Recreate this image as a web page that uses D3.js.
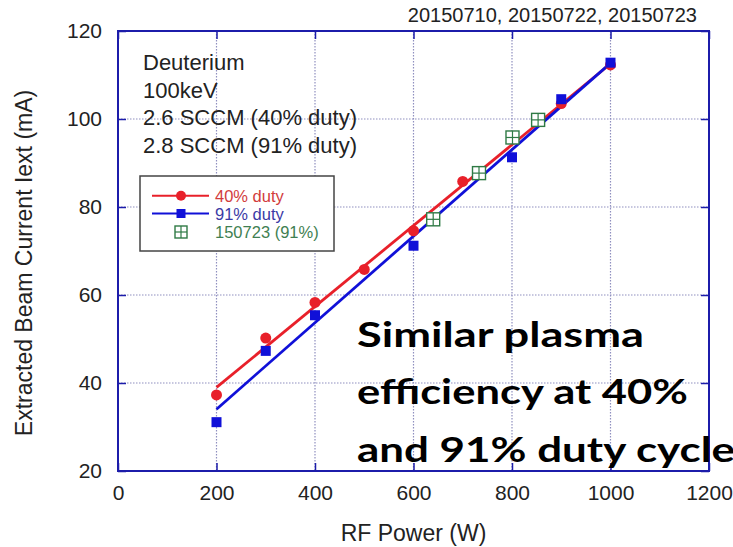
<!DOCTYPE html>
<html>
<head>
<meta charset="utf-8">
<script src="https://cdn.jsdelivr.net/npm/d3@7"></script>
<style>
  body { margin: 0; background: #fff; }
  svg { display: block; }
</style>
</head>
<body>
<div id="chart"></div>
<script>
// 40% duty, 2.6 SCCM
const power40 = [200, 300, 400, 500, 600, 700, 900, 1000];
const current40 = [37.3, 50.2, 58.3, 65.8, 74.6, 85.8, 103.5, 112.3];
// 91% duty, 2.8 SCCM
const power91 = [200, 300, 400, 600, 800, 900, 1000];
const current91 = [31.1, 47.3, 55.4, 71.2, 91.3, 104.5, 112.8];
// run of 150723 (91%)
const power0723 = [640, 733, 801, 853];
const current0723 = [77.2, 87.7, 95.8, 99.8];

const xTicks = [0, 200, 400, 600, 800, 1000, 1200];
const yTicks = [20, 40, 60, 80, 100, 120];

const infoLines = ["Deuterium", "100keV", "2.6 SCCM (40% duty)", "2.8 SCCM (91% duty)"];
const noteLines = ["Similar plasma", "efficiency at 40%", "and 91% duty cycle"];
const legendLabels = ["40% duty", "91% duty", "150723 (91%)"];
const dateLabel = "20150710, 20150722, 20150723";

// least squares line over the range of the points
function fitLine(xs, ys) {
    const mx = d3.mean(xs), my = d3.mean(ys);
    const sxy = d3.sum(xs, (v, i) => (v - mx) * (ys[i] - my));
    const sxx = d3.sum(xs, v => (v - mx) * (v - mx));
    const b = sxy / sxx, a = my - b * mx;
    const ext = d3.extent(xs);
    return ext.map(v => [v, a + b * v]);
}

function drawChart() {
    const W = 733, H = 547;
    const left = 118, right = 709, top = 31, bottom = 471;
    const axisBlue = "#1c1caa";
    const gridColor = "#8f8fbf";

    const svg = d3.select("#chart")
        .append("svg")
        .attr("width", W)
        .attr("height", H)
        .style("font-family", "'Liberation Sans', Arial, sans-serif");

    const x = d3.scaleLinear().domain([0, 1200]).range([left, right]);
    const y = d3.scaleLinear().domain([20, 120]).range([bottom, top]);

    // dotted grid
    svg.append("g").selectAll("line")
        .data(xTicks.slice(1, -1))
        .enter().append("line")
        .attr("x1", d => x(d)).attr("x2", d => x(d))
        .attr("y1", top).attr("y2", bottom)
        .attr("stroke", gridColor).attr("stroke-width", 1.2)
        .attr("stroke-dasharray", "1.5,1.5");
    svg.append("g").selectAll("line")
        .data(yTicks.slice(1, -1))
        .enter().append("line")
        .attr("y1", d => y(d)).attr("y2", d => y(d))
        .attr("x1", left).attr("x2", right)
        .attr("stroke", gridColor).attr("stroke-width", 1.2)
        .attr("stroke-dasharray", "1.5,1.5");

    // axes with inward ticks
    svg.append("g")
        .attr("transform", `translate(0,${bottom})`)
        .call(d3.axisBottom(x).tickValues(xTicks).tickFormat(d3.format("d"))
            .tickSize(-8).tickPadding(14));
    svg.append("g")
        .attr("transform", `translate(${left},0)`)
        .call(d3.axisLeft(y).tickValues(yTicks).tickFormat(d3.format("d"))
            .tickSize(-8).tickPadding(16));
    svg.append("g")
        .attr("transform", `translate(0,${top})`)
        .call(d3.axisTop(x).tickValues(xTicks).tickSize(-8).tickFormat(""));
    svg.append("g")
        .attr("transform", `translate(${right},0)`)
        .call(d3.axisRight(y).tickValues(yTicks).tickSize(-8).tickFormat(""));

    svg.selectAll(".domain").remove();
    svg.selectAll(".tick line").attr("stroke", axisBlue).attr("stroke-width", 1.5);
    svg.selectAll(".tick text")
        .attr("fill", "#222")
        .style("font-size", "21px")
        .style("font-family", "'Liberation Sans', Arial, sans-serif");

    svg.append("rect")
        .attr("x", left).attr("y", top)
        .attr("width", right - left).attr("height", bottom - top)
        .attr("fill", "none").attr("stroke", axisBlue).attr("stroke-width", 2);

    // axis titles
    svg.append("text")
        .attr("x", (left + right) / 2).attr("y", 541)
        .attr("text-anchor", "middle")
        .style("font-size", "23px").attr("fill", "#222")
        .text("RF Power (W)");
    svg.append("text")
        .attr("transform", "rotate(-90)")
        .attr("x", -263).attr("y", 32)
        .attr("text-anchor", "middle")
        .style("font-size", "23px").attr("fill", "#222")
        .text("Extracted Beam Current Iext (mA)");

    svg.append("text")
        .attr("x", 697).attr("y", 22)
        .attr("text-anchor", "end")
        .style("font-size", "20px").attr("fill", "#222")
        .text(dateLabel);

    // condition text
    svg.append("g").selectAll("text")
        .data(infoLines)
        .enter().append("text")
        .attr("x", 143)
        .attr("y", (d, i) => 70 + i * 27.6)
        .style("font-size", "22px").attr("fill", "#222")
        .text(d => d);

    // fit lines
    const line = d3.line().x(d => x(d[0])).y(d => y(d[1]));
    svg.append("path")
        .attr("d", line(fitLine(power40, current40)))
        .attr("fill", "none").attr("stroke", "#e8202a").attr("stroke-width", 2.8);
    svg.append("path")
        .attr("d", line(fitLine(power91, current91)))
        .attr("fill", "none").attr("stroke", "#1010d8").attr("stroke-width", 2.8);

    // points
    svg.append("g").selectAll("circle")
        .data(power40.map((p, i) => [p, current40[i]]))
        .enter().append("circle")
        .attr("cx", d => x(d[0])).attr("cy", d => y(d[1]))
        .attr("r", 5.5).attr("fill", "#e8202a");

    svg.append("g").selectAll("rect")
        .data(power91.map((p, i) => [p, current91[i]]))
        .enter().append("rect")
        .attr("x", d => x(d[0]) - 5).attr("y", d => y(d[1]) - 5)
        .attr("width", 10).attr("height", 10)
        .attr("fill", "#1010d8");

    const boxMark = (g, s) => {
        g.append("rect")
            .attr("x", -s / 2).attr("y", -s / 2).attr("width", s).attr("height", s)
            .attr("fill", "#fff").attr("stroke", "#2f7a45").attr("stroke-width", 1.4);
        g.append("line").attr("x1", -s / 2).attr("x2", s / 2)
            .attr("stroke", "#2f7a45").attr("stroke-width", 1.2);
        g.append("line").attr("y1", -s / 2).attr("y2", s / 2)
            .attr("stroke", "#2f7a45").attr("stroke-width", 1.2);
    };
    svg.append("g").selectAll("g")
        .data(power0723.map((p, i) => [p, current0723[i]]))
        .enter().append("g")
        .attr("transform", d => `translate(${x(d[0])},${y(d[1])})`)
        .each(function() { boxMark(d3.select(this), 13); });

    // legend
    const lg = svg.append("g");
    lg.append("rect")
        .attr("x", 140).attr("y", 176).attr("width", 194).attr("height", 75)
        .attr("fill", "#fff").attr("stroke", "#444").attr("stroke-width", 1.5);
    const rows = [195.7, 213.5, 232];
    const textColors = ["#d23c3c", "#3a3aa6", "#3f7f52"];
    lg.append("line").attr("x1", 152).attr("x2", 209).attr("y1", rows[0]).attr("y2", rows[0])
        .attr("stroke", "#e8202a").attr("stroke-width", 2);
    lg.append("circle").attr("cx", 181).attr("cy", rows[0]).attr("r", 5).attr("fill", "#e8202a");
    lg.append("line").attr("x1", 152).attr("x2", 209).attr("y1", rows[1]).attr("y2", rows[1])
        .attr("stroke", "#1010d8").attr("stroke-width", 2);
    lg.append("rect").attr("x", 176.5).attr("y", rows[1] - 4.5).attr("width", 9).attr("height", 9)
        .attr("fill", "#1010d8");
    boxMark(lg.append("g").attr("transform", `translate(181,${rows[2]})`), 12);
    lg.selectAll("text")
        .data(legendLabels)
        .enter().append("text")
        .attr("x", 215)
        .attr("y", (d, i) => rows[i] + 6)
        .style("font-size", "16.5px")
        .attr("fill", (d, i) => textColors[i])
        .text(d => d);

    // overlay note
    const noteWidths = [287, 331, 378];
    svg.append("g").selectAll("text")
        .data(noteLines)
        .enter().append("text")
        .attr("x", 357)
        .attr("y", (d, i) => 347 + i * 57.3)
        .attr("textLength", (d, i) => noteWidths[i])
        .attr("lengthAdjust", "spacingAndGlyphs")
        .style("font-family", "Lato, 'Open Sans', sans-serif")
        .style("font-weight", "bold")
        .style("font-size", "34px")
        .attr("fill", "#000")
        .text(d => d);
}

drawChart();
</script>
</body>
</html>
